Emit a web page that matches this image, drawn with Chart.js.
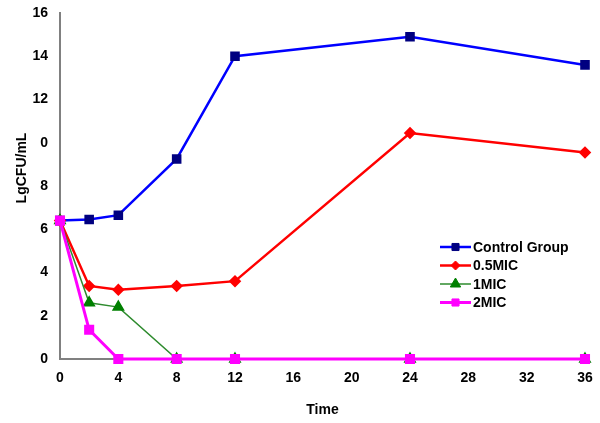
<!DOCTYPE html>
<html>
<head>
<meta charset="utf-8">
<script src="https://cdn.jsdelivr.net/npm/chart.js@4.4.0/dist/chart.umd.min.js"></script>
<style>
  html, body { margin: 0; padding: 0; background: #fff; }
  #wrap { width: 600px; height: 423px; }
</style>
</head>
<body>
<div id="wrap"><canvas id="chart" width="600" height="423"></canvas></div>
<script>
// time points (h)
const times = [0, 2, 4, 8, 12, 24, 36];
const controlGroup = [6.4, 6.45, 6.65, 9.25, 14.0, 14.9, 13.6];
const mic05 = [6.4, 3.38, 3.2, 3.38, 3.6, 10.45, 9.55];
const mic1 = [6.4, 2.6, 2.4, 0, 0, 0, 0];
const mic2 = [6.4, 1.35, 0, 0, 0, 0, 0];
// y tick labels as printed in the picture
const yTickLabels = ["0", "2", "4", "6", "8", "0", "12", "14", "16"];
const xTicks = [0, 4, 8, 12, 16, 20, 24, 28, 32, 36];
const yTitle = "LgCFU/mL";

const toXY = arr => arr.map((v, i) => ({ x: times[i], y: v }));
const font = { family: "'Liberation Sans', Arial, sans-serif", size: 14, weight: "bold" };
const fontStr = "bold 14px 'Liberation Sans', Arial, sans-serif";

// legend drawn inside the plot area, y title sits a bit above centre like the original
const extras = {
  id: "extras",
  afterDraw(chart) {
    const ctx = chart.ctx;
    const x0 = 440, y0 = 247, rowH = 18.5;
    chart.data.datasets.forEach((ds, i) => {
      const y = y0 + i * rowH;
      ctx.save();
      ctx.strokeStyle = ds.borderColor;
      ctx.lineWidth = ds.borderWidth;
      ctx.beginPath();
      ctx.moveTo(x0, y);
      ctx.lineTo(x0 + 31, y);
      ctx.stroke();
      ctx.fillStyle = ds.pointBackgroundColor;
      ctx.strokeStyle = ds.pointBorderColor;
      ctx.lineWidth = 1;
      Chart.helpers.drawPoint(ctx, {
        pointStyle: ds.pointStyle, radius: ds.pointRadius, borderWidth: 1
      }, x0 + 15.5, y);
      ctx.fillStyle = "#000";
      ctx.font = fontStr;
      ctx.textBaseline = "middle";
      ctx.fillText(ds.label, x0 + 33, y + 1);
      ctx.restore();
    });
    ctx.save();
    ctx.translate(22, 168);
    ctx.rotate(-Math.PI / 2);
    ctx.fillStyle = "#000";
    ctx.font = fontStr;
    ctx.textAlign = "center";
    ctx.textBaseline = "middle";
    ctx.fillText(yTitle, 0, 0);
    ctx.restore();
  }
};

new Chart(document.getElementById("chart").getContext("2d"), {
  type: "line",
  data: {
    datasets: [
      {
        label: "Control Group", data: toXY(controlGroup),
        borderColor: "#0000FF", borderWidth: 2.5,
        pointStyle: "rect", pointRadius: 5,
        pointBackgroundColor: "#000080", pointBorderColor: "#000080",
        order: 3
      },
      {
        label: "0.5MIC", data: toXY(mic05),
        borderColor: "#FF0000", borderWidth: 2.5,
        pointStyle: "rectRot", pointRadius: 4.5,
        pointBackgroundColor: "#FF0000", pointBorderColor: "#FF0000",
        order: 2
      },
      {
        label: "1MIC", data: toXY(mic1),
        borderColor: "#2E8B2E", borderWidth: 1.5,
        pointStyle: "triangle", pointRadius: 6,
        pointBackgroundColor: "#008000", pointBorderColor: "#008000",
        order: 1
      },
      {
        label: "2MIC", data: toXY(mic2),
        borderColor: "#FF00FF", borderWidth: 3,
        pointStyle: "rect", pointRadius: 5,
        pointBackgroundColor: "#FF00FF", pointBorderColor: "#FF00FF",
        order: 0
      }
    ].map(ds => Object.assign(ds, { fill: false, tension: 0, clip: false }))
  },
  options: {
    responsive: false,
    animation: false,
    layout: { autoPadding: false, padding: { top: 13, right: 15, left: 0, bottom: 0 } },
    plugins: { legend: { display: false }, tooltip: { enabled: false } },
    scales: {
      x: {
        type: "linear", min: 0, max: 36,
        afterBuildTicks: s => { s.ticks = xTicks.map(v => ({ value: v })); },
        grid: { display: false, drawTicks: false },
        border: { color: "#808080", width: 2 },
        ticks: { color: "#000", font, padding: 11, maxRotation: 0 },
        title: { display: true, text: "Time", color: "#000", font, padding: { top: 10 } },
        afterFit: s => { s.height = 64; s.paddingLeft = 0; s.paddingRight = 0; }
      },
      y: {
        min: 0, max: 16,
        ticks: {
          stepSize: 2, color: "#000", font, padding: 12,
          callback: v => yTickLabels[v / 2]
        },
        grid: { display: false, drawTicks: false },
        border: { color: "#808080", width: 2 },
        afterFit: s => { s.width = 60; s.paddingTop = 0; s.paddingBottom = 0; }
      }
    }
  },
  plugins: [extras]
});
</script>
</body>
</html>
